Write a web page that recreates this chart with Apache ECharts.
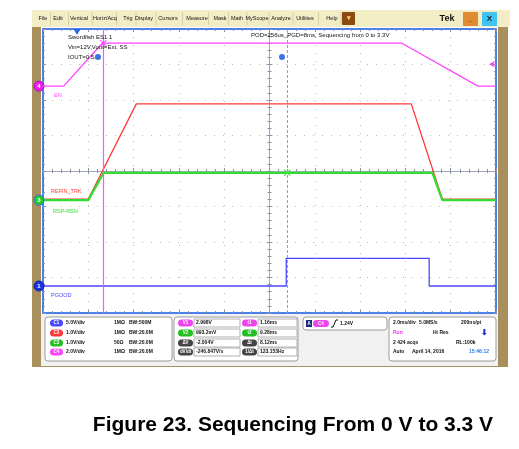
<!DOCTYPE html>
<html><head><meta charset="utf-8">
<script src="https://cdn.jsdelivr.net/npm/echarts@6/dist/echarts.min.js"></script>
<style>html,body{margin:0;padding:0;background:#fff;}#c{width:519px;height:449px;}</style>
</head><body><div id="c"></div>
<script>
// ---- Data read from the scope capture (time in ms, volts per channel) ----
const enTime    = [-1.5, -0.59, 1.12, 14.35, 17.70, 18.5];
const enVolt    = [0, 0, 2.42, 2.42, 0, 0];
const refinTime = [-1.5, 0.50, 2.62, 14.76, 16.13, 18.5];
const refinVolt = [0, 0, 2.68, 2.68, 0, 0];
const rspTime   = [-1.5, 0.50, 1.18, 15.69, 16.13, 18.5];
const rspVolt   = [0, 0, 0.77, 0.77, 0, 0];
const pgoodTime = [-1.5, 9.24, 9.24, 15.55, 15.55, 18.5];
const pgoodVolt = [0, 0, 3.9, 3.9, 0, 0];
const cursorTimes = [1.16, 9.28];
const triggerLevel = 1.24;
// Scope settings
const channelNames = ['C1', 'C2', 'C3', 'C4'];
const voltsPerDiv  = [5, 1, 1, 2];
const positionDiv  = [-3.24, -0.79, -0.82, 2.39];
const timeMin = -1.5, timeMax = 18.5;
const chanColors = ['#4848ff', '#ff3838', '#33dd33', '#ff44ff'];
// Readout texts
const chanReadout = [['5.0V/div', '1MΩ', 'BW:500M'], ['1.0V/div', '1MΩ', 'BW:20.0M'], ['1.0V/div', '50Ω', 'BW:20.0M'], ['2.0V/div', '1MΩ', 'BW:20.0M']];
const cursLabels1 = ['V1', 'V2', 'ΔV', 'dV/dt'];
const cursValues1 = ['2.998V', '993.2mV', '-2.004V', '-246.847V/s'];
const cursLabels2 = ['t1', 't2', 'Δt', '1/Δt'];
const cursValues2 = ['1.16ms', '9.28ms', '8.12ms', '123.153Hz'];
const menuItems = ['File', 'Edit', 'Vertical', 'Horiz/Acq', 'Trig', 'Display', 'Cursors', 'Measure', 'Mask', 'Math', 'MyScope', 'Analyze', 'Utilities', 'Help'];
const menuCenters = [43, 58, 79, 105, 128, 144, 168, 197, 220, 237, 257, 281, 305, 332];

const F = 'Liberation Sans, Arial, sans-serif';
const zip = (a, b) => a.map((v, i) => [v, b[i]]);

const chart = echarts.init(document.getElementById('c'));

const tickC = '#8a92a6';
const edgeX = (pos) => ({
  type: 'value', min: -5, max: 5, interval: 1, position: pos,
  axisLine: { show: true, onZero: false, lineStyle: { color: '#4a80e8', width: 2 } },
  axisTick: { show: true, inside: true, length: 3, lineStyle: { color: tickC } },
  minorTick: { show: true, splitNumber: 5, length: 2, lineStyle: { color: tickC } },
  axisLabel: { show: false },
  splitLine: { show: pos === 'bottom', lineStyle: { color: '#bcbcbc', type: [1, 7] } }
});
const edgeY = (pos) => ({
  type: 'value', min: -4, max: 4, interval: 1, position: pos,
  axisLine: { show: true, onZero: false, lineStyle: { color: '#4a80e8', width: 2 } },
  axisTick: { show: true, inside: true, length: 3, lineStyle: { color: tickC } },
  minorTick: { show: true, splitNumber: 5, length: 2, lineStyle: { color: tickC } },
  axisLabel: { show: false },
  splitLine: { show: pos === 'left', lineStyle: { color: '#bcbcbc', type: [1, 8] } }
});
const centerX = (inside) => ({
  type: 'value', min: -5, max: 5, interval: 1, position: 'bottom',
  axisLine: { show: true, onZero: true, onZeroAxisIndex: 0, lineStyle: { color: '#a0a8ba', width: 1 } },
  axisTick: { show: true, inside, length: 3, lineStyle: { color: tickC } },
  minorTick: { show: true, splitNumber: 5, length: 2, lineStyle: { color: tickC } },
  axisLabel: { show: false }, splitLine: { show: false }
});
const centerY = (inside) => ({
  type: 'value', min: -4, max: 4, interval: 1, position: 'left',
  axisLine: { show: true, onZero: true, onZeroAxisIndex: 0, lineStyle: { color: '#a0a8ba', width: 1 } },
  axisTick: { show: true, inside, length: 3, lineStyle: { color: tickC } },
  minorTick: { show: true, splitNumber: 5, length: 2, lineStyle: { color: tickC } },
  axisLabel: { show: false }, splitLine: { show: false }
});
const chanAxes = channelNames.map((n, i) => ({
  type: 'value', show: false,
  min: -(4 + positionDiv[i]) * voltsPerDiv[i],
  max: (4 - positionDiv[i]) * voltsPerDiv[i],
  axisLine: { onZero: false }
}));

// ---- graphic chrome ----
const G = [];
const txt = (x, y, text, o = {}) => G.push({ type: 'text', x, y, z: o.z || 20, style: { text, fill: o.fill || '#111', font: (o.w || 'normal') + ' ' + (o.s || 6) + 'px ' + F, align: o.a || 'left', verticalAlign: 'middle' } });
const rect = (x, y, w, h, fill, o = {}) => G.push({ type: 'rect', z: o.z || 15, shape: { x, y, width: w, height: h, r: o.r || 0 }, style: { fill, stroke: o.stroke || null, lineWidth: o.lw || 1 } });
const pill = (x, y, w, label, color) => { rect(x, y - 3.5, w, 7, color, { r: 3.5, z: 18 }); txt(x + w / 2, y, label, { fill: '#fff', s: 4.5, w: 'bold', a: 'center', z: 19 }); };
const P = { w: 'bold', s: 5 };

// frame
rect(32, 27, 476, 340, '#a98f5b', { z: -10 });
rect(41, 27, 457, 287, '#ffffff', { z: -9 });
// menu bar
rect(32, 10, 478, 17, '#f3edc6', { z: 5 });
menuItems.forEach((m, i) => {
  txt(menuCenters[i], 18.5, m, { a: 'center', s: 5.5 });
  const sx = i < menuItems.length - 1 ? (menuCenters[i] + menuCenters[i + 1]) / 2 : 341;
  G.push({ type: 'line', z: 15, shape: { x1: sx, y1: 12, x2: sx, y2: 25 }, style: { stroke: '#d6cfa8', lineWidth: 1 } });
});
rect(342, 12, 13, 13, '#8b4a12', { r: 1 });
txt(348.5, 18.5, '▾', { a: 'center', s: 7, fill: '#ffd070', w: 'bold' });
txt(447, 18.5, 'Tek', { a: 'center', s: 9, w: 'bold' });
rect(463, 12, 15, 14, '#e08a32', { r: 1 });
txt(470.5, 19, '_', { a: 'center', s: 8, w: 'bold', fill: '#333' });
rect(482, 12, 15, 14, '#3ec4f2', { r: 1 });
txt(489.5, 19, 'X', { a: 'center', s: 8, w: 'bold', fill: '#123' });

// plot annotations
txt(68, 37, 'Swordfish ES1.1');
txt(68, 47, 'Vin=12V,Vout=Ext. SS');
txt(68, 57, 'IOUT=0.5A');
txt(251, 35, 'POD=256us_PGD=8ms, Sequencing from 0 to 3.3V');
txt(54, 95, 'EN', { fill: chanColors[3], s: 5.5 });
txt(51, 191, 'REFIN_TRK', { fill: chanColors[1], s: 5.5 });
txt(53, 211, 'RSP-RSN', { fill: chanColors[2], s: 5.5 });
txt(51, 295, 'PGOOD', { fill: chanColors[0], s: 5.5 });
G.push({ type: 'circle', z: 20, shape: { cx: 98, cy: 57, r: 3 }, style: { fill: '#3a74e4' } });
G.push({ type: 'circle', z: 20, shape: { cx: 282, cy: 57, r: 3 }, style: { fill: '#3a74e4' } });

// bottom panel
rect(41, 314, 457, 52, '#f1f1f1', { z: 10 });
const rows = [323, 333, 343, 352];
rect(45, 317, 127, 44, '#ffffff', { r: 3, stroke: '#9c9c9c', z: 12 });
channelNames.forEach((n, i) => {
  pill(50, rows[i], 13, n, chanColors[i] === '#33dd33' ? '#22c022' : chanColors[i]);
  txt(66, rows[i], chanReadout[i][0], P);
  txt(114, rows[i], chanReadout[i][1], P);
  txt(129, rows[i], chanReadout[i][2], P);
});
rect(174, 317, 124, 44, '#ffffff', { r: 3, stroke: '#9c9c9c', z: 12 });
const cursPillColors = ['#ee44ee', '#22c022', '#444444', '#444444'];
cursLabels1.forEach((l, i) => {
  pill(178, rows[i], 15, l, cursPillColors[i]);
  rect(194, rows[i] - 4, 46, 8, '#fff', { stroke: '#b0b0b0', z: 16 });
  txt(196, rows[i], cursValues1[i], P);
  pill(242, rows[i], 15, cursLabels2[i], cursPillColors[i]);
  rect(258, rows[i] - 4, 39, 8, '#fff', { stroke: '#b0b0b0', z: 16 });
  txt(260, rows[i], cursValues2[i], P);
});
rect(303, 317, 84, 13, '#ffffff', { r: 3, stroke: '#9c9c9c', z: 12 });
rect(306, 320, 6, 7, '#1c2c7c', { z: 18 });
txt(309, 323.5, 'A', { a: 'center', s: 4.5, fill: '#fff', w: 'bold' });
pill(313, 323.5, 16, 'C4', '#ee44ee');
G.push({ type: 'polyline', z: 18, shape: { points: [[331, 327], [333, 327], [336, 320], [338, 320]] }, style: { stroke: '#111', lineWidth: 1 } });
txt(340, 323.5, '1.24V', P);
rect(389, 317, 107, 44, '#ffffff', { r: 3, stroke: '#9c9c9c', z: 12 });
txt(393, rows[0], '2.0ms/div', P);
txt(419, rows[0], '5.0MS/s', P);
txt(461, rows[0], '200ns/pt', P);
txt(393, rows[1], 'Run', { w: 'bold', s: 5, fill: '#ee33ee' });
txt(433, rows[1], 'Hi Res', P);
txt(484, rows[1], '⬇', { w: 'bold', s: 8, fill: '#2a3ad0', a: 'center' });
txt(393, rows[2], '2 424 acqs', P);
txt(456, rows[2], 'RL:100k', P);
txt(393, rows[3], 'Auto', P);
txt(412, rows[3], 'April 14, 2016', P);
txt(469, rows[3], '15:46:12', { w: 'bold', s: 5, fill: '#2a7ae8' });

// figure caption
txt(293, 425, 'Figure 23. Sequencing From 0 V to 3.3 V', { a: 'center', s: 21, w: 'bold', fill: '#000' });

const cross = 'path://M0,1L1,0L5,4L9,0L10,1L6,5L10,9L9,10L5,6L1,10L0,9L4,5Z';
const chanMarker = (num, color, ring) => ({
  coord: [timeMin, 0], symbol: 'circle', symbolSize: 10, symbolOffset: [-4, 0],
  itemStyle: { color, borderColor: ring, borderWidth: 1 },
  label: { show: true, position: 'inside', formatter: num, color: '#fff', fontSize: 6, fontWeight: 'bold', fontFamily: F }
});

chart.setOption({
  animation: false,
  backgroundColor: '#ffffff',
  grid: { left: 43, top: 29, width: 453, height: 284, show: true, backgroundColor: '#ffffff', borderWidth: 0 },
  xAxis: [edgeX('bottom'), edgeX('top'), centerX(true), centerX(false),
    { type: 'value', show: false, min: timeMin, max: timeMax, axisLine: { onZero: false } }],
  yAxis: [edgeY('left'), edgeY('right'), centerY(true), centerY(false)].concat(chanAxes),
  graphic: { elements: G },
  series: [
    { name: 'PGOOD', type: 'line', xAxisIndex: 4, yAxisIndex: 4, data: zip(pgoodTime, pgoodVolt), symbol: 'none',
      lineStyle: { color: chanColors[0], width: 1.3 }, z: 3,
      markPoint: { silent: true, data: [chanMarker('1', '#1c34e0', '#1020a0')] } },
    { name: 'REFIN_TRK', type: 'line', xAxisIndex: 4, yAxisIndex: 5, data: zip(refinTime, refinVolt), symbol: 'none',
      lineStyle: { color: chanColors[1], width: 1.3 }, z: 3 },
    { name: 'RSP-RSN', type: 'line', xAxisIndex: 4, yAxisIndex: 6, data: zip(rspTime, rspVolt), symbol: 'none',
      lineStyle: { color: chanColors[2], width: 2.2 }, z: 4,
      markLine: { silent: true, symbol: 'none', label: { show: false }, lineStyle: { color: '#44dd44', width: 1, type: [3, 2] }, data: [{ xAxis: cursorTimes[1] }] },
      markPoint: { silent: true, data: [chanMarker('3', '#22cc22', '#2a70e0'),
        { coord: [cursorTimes[1], rspVolt[2]], symbol: cross, symbolSize: 7, itemStyle: { color: '#44dd44' }, label: { show: false } }] } },
    { name: 'EN', type: 'line', xAxisIndex: 4, yAxisIndex: 7, data: zip(enTime, enVolt), symbol: 'none',
      lineStyle: { color: chanColors[3], width: 1.3 }, z: 5,
      markLine: { silent: true, symbol: 'none', label: { show: false }, lineStyle: { color: '#ff55ff', width: 1.2, type: 'solid' }, data: [{ xAxis: cursorTimes[0] }] },
      markPoint: { silent: true, data: [chanMarker('4', '#ee22ee', '#b010b0'),
        { coord: [cursorTimes[0], enVolt[2]], symbol: cross, symbolSize: 7, itemStyle: { color: '#ff44ff' }, label: { show: false } },
        { coord: [timeMax, triggerLevel], symbol: 'arrow', symbolRotate: 90, symbolSize: [5, 6], symbolOffset: [-7, 0], itemStyle: { color: '#ff44ff' }, label: { show: false } },
        { coord: [0, chanAxes[3].max], symbol: 'triangle', symbolRotate: 180, symbolSize: [7, 6], symbolOffset: [0, 3], itemStyle: { color: '#2a6ae0' }, label: { show: false } }] } }
  ]
});
</script></body></html>
